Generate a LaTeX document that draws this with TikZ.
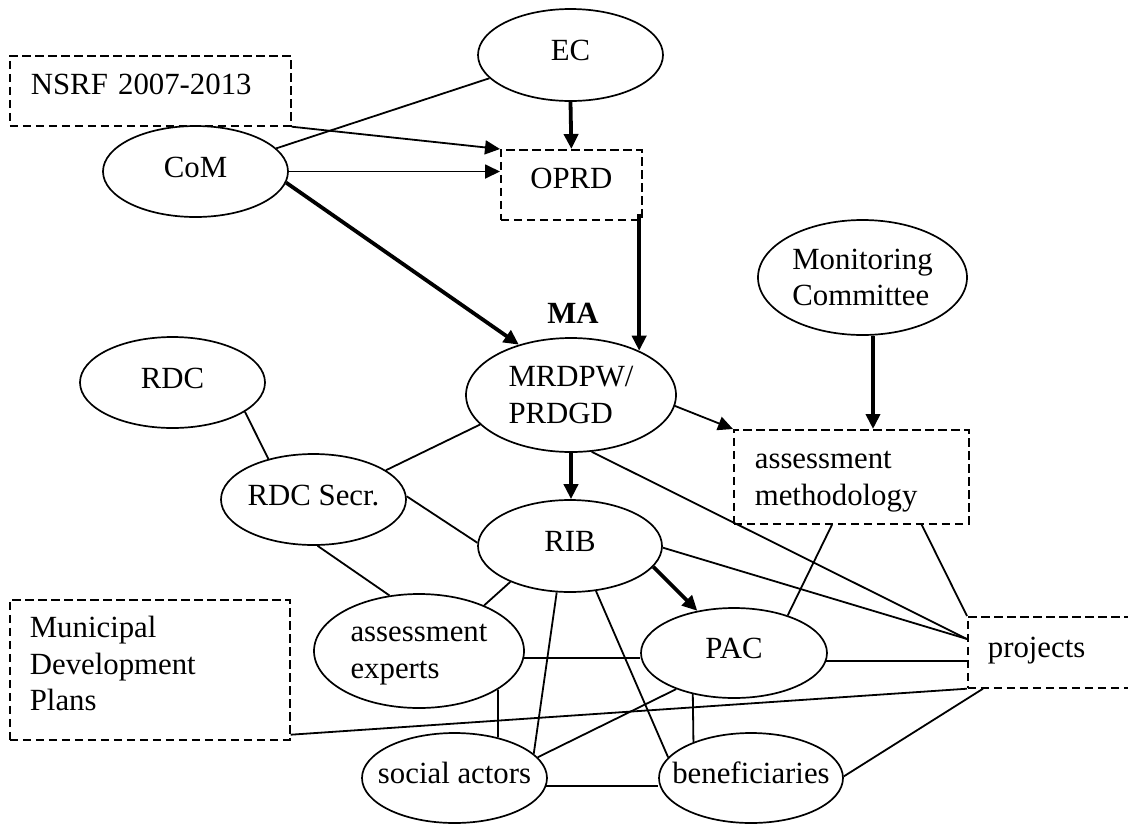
\documentclass[tikz,border=0pt]{standalone}
\usepackage{fontspec}
\setmainfont{Liberation Serif}
\usetikzlibrary{shapes.geometric,arrows.meta,calc}
\newcommand\tstr{\rule{0pt}{25pt}}
\newcommand\bstr{\rule[-5.5pt]{0pt}{5.5pt}}
\begin{document}
\begin{tikzpicture}[x=1pt,y=-1pt,
  font=\fontsize{30.8}{36.5}\selectfont,
  ell/.style={ellipse, draw, line width=1.7pt, inner sep=-20pt},
  one/.style={text height=18pt, text depth=7pt},
  dbox/.style={draw, line width=1.7pt, dash pattern=on 8.5pt off 4.5pt,
    anchor=north west, inner ysep=0pt, align=left},
  ln/.style={line width=1.8pt},
  arr/.style={line width=1.8pt, -{Triangle[length=15pt,width=14pt]}},
  thk/.style={line width=3.8pt, -{Triangle[length=15pt,width=14pt]}}]
\useasboundingbox (0,0) rectangle (1128,823);

% ellipses
\node[ell, one, minimum width=185pt, minimum height=92pt] (ec)   at (570.5,55)  {EC};
\node[ell, one, minimum width=185pt, minimum height=91pt] (com)  at (195.5,171.5) {CoM};
\node[ell, align=left, minimum width=210pt, minimum height=114pt] (mr) at (571,395) {\tstr MRDPW/\\PRDGD\bstr};
\node[ell, one, minimum width=185pt, minimum height=91pt] (rdc)  at (172.5,382.5) {RDC};
\node[ell, one, minimum width=185pt, minimum height=91pt] (rdcs) at (313.5,499.5) {RDC Secr.};
\node[ell, one, minimum width=184pt, minimum height=92pt] (rib)  at (570,546) {RIB};
\node[ell, align=left, minimum width=209pt, minimum height=115pt] (mc) at (862.5,277.5) {\tstr Monitoring\\Committee\bstr};
\node[ell, one, minimum width=186pt, minimum height=90pt] (pac)  at (734,653) {PAC};
\node[ell, one, minimum width=184pt, minimum height=90pt] (ben)  at (751,778) {beneficiaries};
\node[ell, one, minimum width=185pt, minimum height=90pt] (soc)  at (454.5,778) {social actors};
\node[ell, align=left, minimum width=210pt, minimum height=114pt] (ae) at (419,651) {\tstr assessment\\experts\bstr};

% dashed boxes
\node[dbox, inner xsep=21pt, text width=239pt, text height=39pt, text depth=31pt] (nsrf) at (9,55) {NSRF 2007-2013};
\node[dbox, align=center, inner xsep=18pt, text width=105pt, text height=39pt, text depth=31pt] (oprd) at (500,149) {OPRD};
\node[dbox, inner xsep=21pt, text width=193pt, text height=39pt, text depth=55pt] (am) at (733,429) {assessment\\methodology};
\node[dbox, inner xsep=20pt, text width=240pt, text height=38pt, text depth=102pt] (mdp) at (9,599) {Municipal\\Development\\Plans};
\node[dbox, inner xsep=20pt, text width=150pt, text height=41pt, text depth=30pt] (prj) at (967,616) {projects};

% label
\node[anchor=base, inner sep=0pt, font=\fontsize{30.8}{36.5}\selectfont\bfseries] (ma) at (573,323) {MA};

% connectors
\draw[arr] (nsrf.south east) -- (oprd.north west);
\draw[arr] (com.east) -- (com.east -| oprd.west);
\draw[ln] (com.16) -- (ec.196);
\draw[thk] (ec.south) -- (oprd.north);
\draw[thk] (com.353) -- (mr.136);
\draw[thk] ($(mr.33 |- oprd.south)+(0,-7)$) -- (mr.33);
\draw[arr] (mr.354) -- (am.north west);
\draw[thk] ($(mc.south)+(10.5,0)$) -- ($(mc.south |- am.north)+(10.5,0)$);
\draw[thk] (mr.south) -- (mr.south |- rib.north);
\draw[ln] (rdc.338) -- (rdcs.138);
\draw[ln] (rdcs.22) -- (mr.198);
\draw[ln] (rdcs.2) -- (rib.178);
\draw[ln] (rdcs.275) -- (ae.118);
\draw[ln] (mr.290) -- ($(prj.north west)+(0,23)$);
\draw[ln] (rib.359) -- ($(prj.north west)+(0,23)$);
\draw[ln] ($(am.south east)+(-48,0)$) -- (prj.north west);
\draw[ln] ($(am.south west)+(99,0)$) -- (pac.35);
\draw[thk] (rib.346) -- (pac.131);
\draw[ln] (pac.355) -- (pac.355 -| prj.west);
\draw[ln] ($(mdp.south east)+(0,-6)$) -- (prj.south west);
\draw[ln] ($(prj.south west)+(16,0)$) -- (ben.1);
\draw[ln] (rib.211) -- (ae.35);
\draw[ln] (rib.254) -- (soc.17);
\draw[ln] (rib.300) -- (ben.166);
\draw[ln] (ae.356) -- (ae.356 -| pac.west);
\draw[ln] (ae.334) -- (soc.43);
\draw[ln] (pac.212) -- (soc.14);
\draw[ln] (pac.225) -- (ben.148);
\draw[ln] (soc.355) -- (soc.355 -| ben.west);
\end{tikzpicture}
\end{document}
